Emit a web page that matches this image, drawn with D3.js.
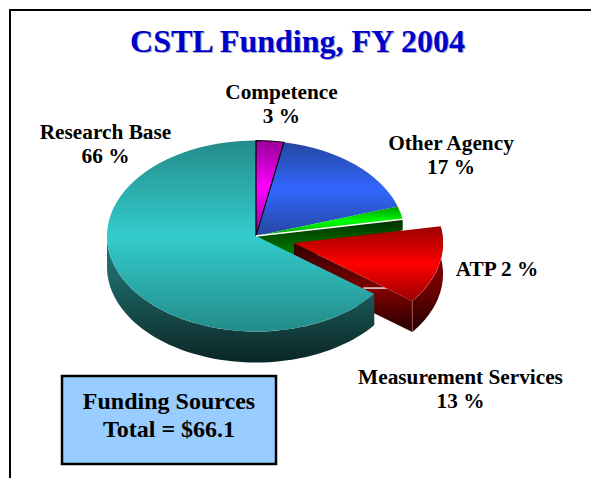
<!DOCTYPE html>
<html>
<head>
<meta charset="utf-8">
<script src="https://cdn.jsdelivr.net/npm/d3@7"></script>
<style>
html, body { margin: 0; padding: 0; background: #fff; overflow: hidden; }
svg { display: block; }
text { font-family: "Liberation Serif", serif; font-weight: bold; fill: #000; text-anchor: middle; }
</style>
</head>
<body>
<svg width="591" height="478"></svg>
<script>
// slice sizes, clockwise from 12 o'clock
// (printed labels are rounded and add to 101, so the drawn sizes differ a little)
var categories = ["Competence", "Other Agency", "ATP", "Measurement Services", "Research Base"];
var shares = [3, 17, 2.2, 13.2, 64.6];
var titleText = "CSTL Funding, FY 2004";
var boxLines = ["Funding Sources", "Total = $66.1"];

var labelLines = [
    ["Competence", "3 %"],
    ["Other Agency", "17 %"],
    ["ATP 2 %"],
    ["Measurement Services", "13 %"],
    ["Research Base", "66 %"]
];
var labelPos = [[281.5, 99], [451, 150], [497, 276], [460.5, 384], [105.5, 139]];

var topColors = [
    ["#990099", "#ff00ff", "#990099"],
    ["#24479f", "#3366ff", "#24479f"],
    ["#009900", "#00ff00", "#00a000"],
    ["#990000", "#ff0000", "#990000"],
    ["#238c8a", "#33cccc", "#238c8a"]
];

var svg = d3.select("svg");
var defs = svg.append("defs");

var cx = 256, cy = 236, rx = 149, ry = 95.5, depth = 31;
var explode = [38, 7]; // measurement services slice is pulled out

var slices = d3.pie().sort(null).value(function(d) { return d; })(shares);
var arc = d3.arc().innerRadius(0).outerRadius(rx);

function gradient(id, stops, y1, y2) {
    var g = defs.append("linearGradient").attr("id", id)
        .attr("x1", 0).attr("x2", 0).attr("y1", y1).attr("y2", y2);
    if (y1 > 1 || y2 > 1) g.attr("gradientUnits", "userSpaceOnUse");
    stops.forEach(function(s) {
        g.append("stop").attr("offset", s[0]).attr("stop-color", s[1]);
    });
}

topColors.forEach(function(c, i) {
    gradient("top" + i, [[0, c[0]], [0.5, c[1]], [1, c[2]]], 0, 1);
});
gradient("tealSide", [[0, "#217a79"], [0.35, "#1c6463"], [1, "#0b2525"]], cy, cy + ry + depth);
gradient("redWall", [[0, "#300000"], [0.55, "#800000"], [1, "#260000"]], cy + explode[1], cy + explode[1] + ry * 0.59 + depth);
gradient("redRim", [[0, "#8a0000"], [0.6, "#700000"], [1, "#260000"]], cy + explode[1] - 20, cy + explode[1] + ry * 0.59 + depth);
gradient("greenWall", [[0, "#003300"], [1, "#008000"]], cy - 15, cy + 20);

// frame, open on the right and at the bottom
svg.append("path")
    .attr("d", d3.line()([[10, 478], [10, 10], [591, 10]]))
    .attr("fill", "none").attr("stroke", "#000").attr("stroke-width", 2);

// point on the rim of the tilted pie
function rim(a, ox, oy) {
    return [cx + ox + rx * Math.sin(a), cy + oy - ry * Math.cos(a)];
}

function rimBand(a0, a1, ox, oy) {
    var n = 60, up = [], down = [];
    d3.range(n + 1).forEach(function(i) {
        var p = rim(a0 + (a1 - a0) * i / n, ox, oy);
        up.push(p);
        down.unshift([p[0], p[1] + depth]);
    });
    return d3.line()(up.concat(down)) + "Z";
}

var green = slices[2], red = slices[3], teal = slices[4];

// cut face of the green slice, seen through the gap of the pulled out slice
var gEnd = rim(green.endAngle, 0, 0);
var tStart = rim(teal.startAngle, 0, 0);
svg.append("path")
    .attr("d", d3.line()([
        [cx, cy], gEnd, [gEnd[0], gEnd[1] + 11],
        [cx + (tStart[0] - cx) * 0.33, cy + (tStart[1] - cy) * 0.33 + 5]
    ]) + "Z")
    .attr("fill", "url(#greenWall)");

// pulled out slice: inner wall and rim first
var rA = rim(red.endAngle, explode[0], explode[1]);
var apex = [cx + explode[0], cy + explode[1]];
svg.append("path")
    .attr("d", rimBand(red.startAngle, red.endAngle, explode[0], explode[1]))
    .attr("fill", "url(#redRim)");
svg.append("path")
    .attr("d", d3.line()([apex, rA, [rA[0], rA[1] + depth], [apex[0], apex[1] + depth]]) + "Z")
    .attr("fill", "url(#redWall)");
svg.append("path")
    .attr("d", d3.line()([rA, [rA[0], rA[1] + depth]]))
    .attr("stroke", "#b06060").attr("stroke-width", 0.7);

// white sliver between the wall and the teal top
svg.append("path")
    .attr("d", d3.line()([[tStart[0] - 11, tStart[1] - 6], [tStart[0] + 15, tStart[1] - 6]]))
    .attr("stroke", "#fff").attr("stroke-width", 1.3);

// teal rim
svg.append("path")
    .attr("d", rimBand(teal.startAngle, Math.PI * 1.5, 0, 0))
    .attr("fill", "url(#tealSide)");

// slice tops, circle arcs squashed into the tilt
function drawTop(i, ox, oy) {
    svg.append("g")
        .attr("transform", "translate(" + (cx + ox) + "," + (cy + oy) + ") scale(1," + (ry / rx) + ")")
        .append("path")
        .attr("d", arc(slices[i]))
        .attr("fill", "url(#top" + i + ")");
}
drawTop(0, 0, 0);
drawTop(1, 0, 0);
drawTop(2, 0, 0);
drawTop(4, 0, 0);
drawTop(3, explode[0], explode[1]);

// outline around the competence slice
svg.append("g")
    .attr("transform", "translate(" + cx + "," + cy + ") scale(1," + (ry / rx) + ")")
    .append("path")
    .attr("d", arc(slices[0]))
    .attr("fill", "none").attr("stroke", "#000").attr("stroke-width", 1.2);

// white line along the cut of the green slice
svg.append("path")
    .attr("d", d3.line()([[cx, cy], gEnd]))
    .attr("stroke", "#fff").attr("stroke-width", 1.4);

// title with its soft shadow
svg.append("text").attr("x", 298.5).attr("y", 52.5)
    .attr("font-size", 32).attr("style", "fill:#a8a8c4").text(titleText);
svg.append("text").attr("x", 297.5).attr("y", 51.5)
    .attr("font-size", 32).attr("style", "fill:#0000cc").text(titleText);

// labels
labelLines.forEach(function(lines, i) {
    var t = svg.append("text").attr("font-size", 21.3);
    lines.forEach(function(s, j) {
        t.append("tspan").attr("x", labelPos[i][0])
            .attr("y", labelPos[i][1] + j * 24).text(s);
    });
});

// total box
svg.append("rect")
    .attr("x", 62).attr("y", 376).attr("width", 214).attr("height", 88)
    .attr("fill", "#99ccff").attr("stroke", "#000").attr("stroke-width", 2.5);
boxLines.forEach(function(s, j) {
    svg.append("text").attr("x", 169).attr("y", 409 + j * 28)
        .attr("font-size", 24).text(s);
});
</script>
</body>
</html>
